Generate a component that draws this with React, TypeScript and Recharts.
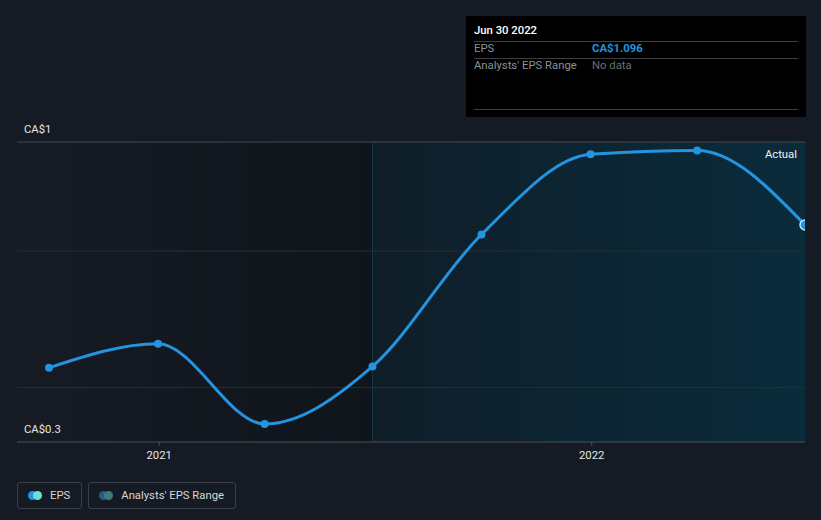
import React from 'react';
import {
  LineChart,
  Line,
  XAxis,
  YAxis,
  Tooltip,
  ReferenceArea,
  ReferenceLine,
} from 'recharts';

const DATES = [
  Date.UTC(2020, 8, 30),
  Date.UTC(2020, 11, 31),
  Date.UTC(2021, 2, 31),
  Date.UTC(2021, 5, 30),
  Date.UTC(2021, 8, 30),
  Date.UTC(2021, 11, 31),
  Date.UTC(2022, 2, 31),
  Date.UTC(2022, 5, 30),
];
const EPS = [0.572, 0.66, 0.366, 0.577, 1.061, 1.355, 1.369, 1.096];

const X_START = Date.UTC(2020, 8, 3);
const X_END = Date.UTC(2022, 5, 30);
const FORECAST_START = Date.UTC(2021, 5, 30);
const X_TICKS = [Date.UTC(2021, 0, 1), Date.UTC(2022, 0, 1)];

const Y_DOMAIN = [0.3, 1.4];
const Y_TICKS = [0.3, 1.4];
const Y_TICK_LABELS = ['CA$0.3', 'CA$1'];
const Y_GRID = [0.5, 1.0];

const LEGEND_ITEMS = [
  { name: 'EPS', colors: ['#2394df', '#6de0d6'] },
  { name: "Analysts' EPS Range", colors: ['#2b5a85', '#3d7d78'] },
];

const BG = '#151b24';
const LINE = '#2394df';
const FONT = 'Roboto, "Open Sans", sans-serif';
const FS = 11.3;
const MONTHS = ['Jan', 'Feb', 'Mar', 'Apr', 'May', 'Jun', 'Jul', 'Aug', 'Sep', 'Oct', 'Nov', 'Dec'];

const chartData = DATES.map((d, i) => ({ date: d, eps: EPS[i] }));

function fmtDate(ts: number) {
  const d = new Date(ts);
  return `${MONTHS[d.getUTCMonth()]} ${d.getUTCDate()} ${d.getUTCFullYear()}`;
}

function YTick(props: any) {
  const { y, payload, index } = props;
  let idx = Y_TICKS.findIndex((t) => Math.abs(t - Number(payload?.value)) < 1e-6);
  if (idx < 0) idx = index ?? 0;
  return (
    <text x={24} y={y - 12} fill="#e6e6e6" fontSize={FS} fontFamily={FONT} dominantBaseline="middle">
      {Y_TICK_LABELS[idx]}
    </text>
  );
}

function InfoBox({ payload }: any) {
  if (!payload?.length) return null;
  const p = payload[0].payload;
  const rule = { position: 'absolute' as const, left: 8, right: 8, height: 1, background: '#3a3d42' };
  return (
    <div style={{ position: 'relative', width: 340, height: 101, background: '#000', fontFamily: FONT, fontSize: FS }}>
      <div style={{ position: 'absolute', left: 8, top: 8, color: '#fff', fontWeight: 500 }}>{fmtDate(p.date)}</div>
      <div style={{ ...rule, top: 25 }} />
      <div style={{ position: 'absolute', left: 8, top: 26, color: '#8c9096' }}>EPS</div>
      <div style={{ position: 'absolute', left: 126, top: 26, color: LINE, fontWeight: 700 }}>
        CA${p.eps.toFixed(3)}
      </div>
      <div style={{ ...rule, top: 42 }} />
      <div style={{ position: 'absolute', left: 8, top: 43, color: '#8c9096' }}>Analysts' EPS Range</div>
      <div style={{ position: 'absolute', left: 126, top: 43, color: '#6b6f75' }}>No data</div>
      <div style={{ ...rule, top: 93 }} />
    </div>
  );
}

export default function App() {
  return (
    <div style={{ position: 'fixed', left: 0, top: 0, width: 821, height: 520, background: BG }}>
      <LineChart
        width={821}
        height={520}
        data={chartData}
        margin={{ top: 142, right: 16, bottom: 48, left: 16 }}
      >
        <defs>
          <linearGradient id="pastFill" x1="0" y1="0" x2="1" y2="0">
            <stop offset="0%" stopColor="#161b24" />
            <stop offset="100%" stopColor="#10151c" />
          </linearGradient>
          <linearGradient id="nowFill" x1="0" y1="0" x2="1" y2="0">
            <stop offset="0%" stopColor="#0f1e29" />
            <stop offset="100%" stopColor="#0a2b3b" />
          </linearGradient>
        </defs>
        <XAxis
          dataKey="date"
          type="number"
          scale="time"
          domain={[X_START, X_END]}
          allowDataOverflow
          ticks={X_TICKS}
          tickFormatter={(v) => String(new Date(v).getUTCFullYear())}
          axisLine={{ stroke: '#4a5059' }}
          tickLine={{ stroke: '#4a5059' }}
          tickSize={4}
          tickMargin={5}
          tick={{ fill: '#e6e6e6', fontSize: FS, fontFamily: FONT }}
          height={30}
        />
        <YAxis
          type="number"
          domain={Y_DOMAIN}
          ticks={Y_TICKS}
          width={1}
          axisLine={false}
          tickLine={false}
          tick={<YTick />}
        />
        <ReferenceArea x1={X_START} x2={FORECAST_START} y1={Y_DOMAIN[0]} y2={Y_DOMAIN[1]} fill="url(#pastFill)" fillOpacity={1} />
        <ReferenceArea
          x1={FORECAST_START}
          x2={X_END}
          y1={Y_DOMAIN[0]}
          y2={Y_DOMAIN[1]}
          fill="url(#nowFill)"
          fillOpacity={1}
          label={{ value: 'Actual', position: 'insideTopRight', offset: 8, fill: '#f0f0f0', fontSize: FS, fontFamily: FONT }}
        />
        {Y_GRID.map((v) => (
          <ReferenceLine key={v} y={v} stroke="#262d36" strokeWidth={1} />
        ))}
        <ReferenceLine y={Y_DOMAIN[1]} stroke="#434a53" strokeWidth={1} />
        <ReferenceLine x={FORECAST_START} stroke="#173842" strokeWidth={1} />
        <Tooltip
          active
          defaultIndex={7}
          cursor={false}
          position={{ x: 466, y: 16 }}
          allowEscapeViewBox={{ x: true, y: true }}
          wrapperStyle={{ outline: 'none' }}
          content={<InfoBox />}
          isAnimationActive={false}
        />
        <Line
          type="monotone"
          dataKey="eps"
          stroke={LINE}
          strokeWidth={3}
          dot={{ r: 4, fill: LINE, stroke: 'none' }}
          activeDot={{ r: 5, fill: LINE, stroke: '#bfe6ff', strokeWidth: 1.5 }}
          isAnimationActive={false}
        />
      </LineChart>
      <div style={{ position: 'absolute', left: 17, top: 482, display: 'flex', gap: 6, fontFamily: FONT, fontSize: FS }}>
        {LEGEND_ITEMS.map((it) => (
          <div
            key={it.name}
            style={{
              display: 'flex',
              alignItems: 'center',
              boxSizing: 'border-box',
              height: 27,
              padding: '0 11px 0 10px',
              border: '1px solid #3a3f47',
              borderRadius: 3,
              color: '#d6d6d6',
            }}
          >
            <span style={{ position: 'relative', width: 14, height: 9, marginRight: 8 }}>
              <span style={{ position: 'absolute', left: 0, top: 0, width: 9, height: 9, borderRadius: '50%', background: it.colors[0] }} />
              <span style={{ position: 'absolute', left: 5, top: 0, width: 9, height: 9, borderRadius: '50%', background: it.colors[1] }} />
            </span>
            {it.name}
          </div>
        ))}
      </div>
    </div>
  );
}
